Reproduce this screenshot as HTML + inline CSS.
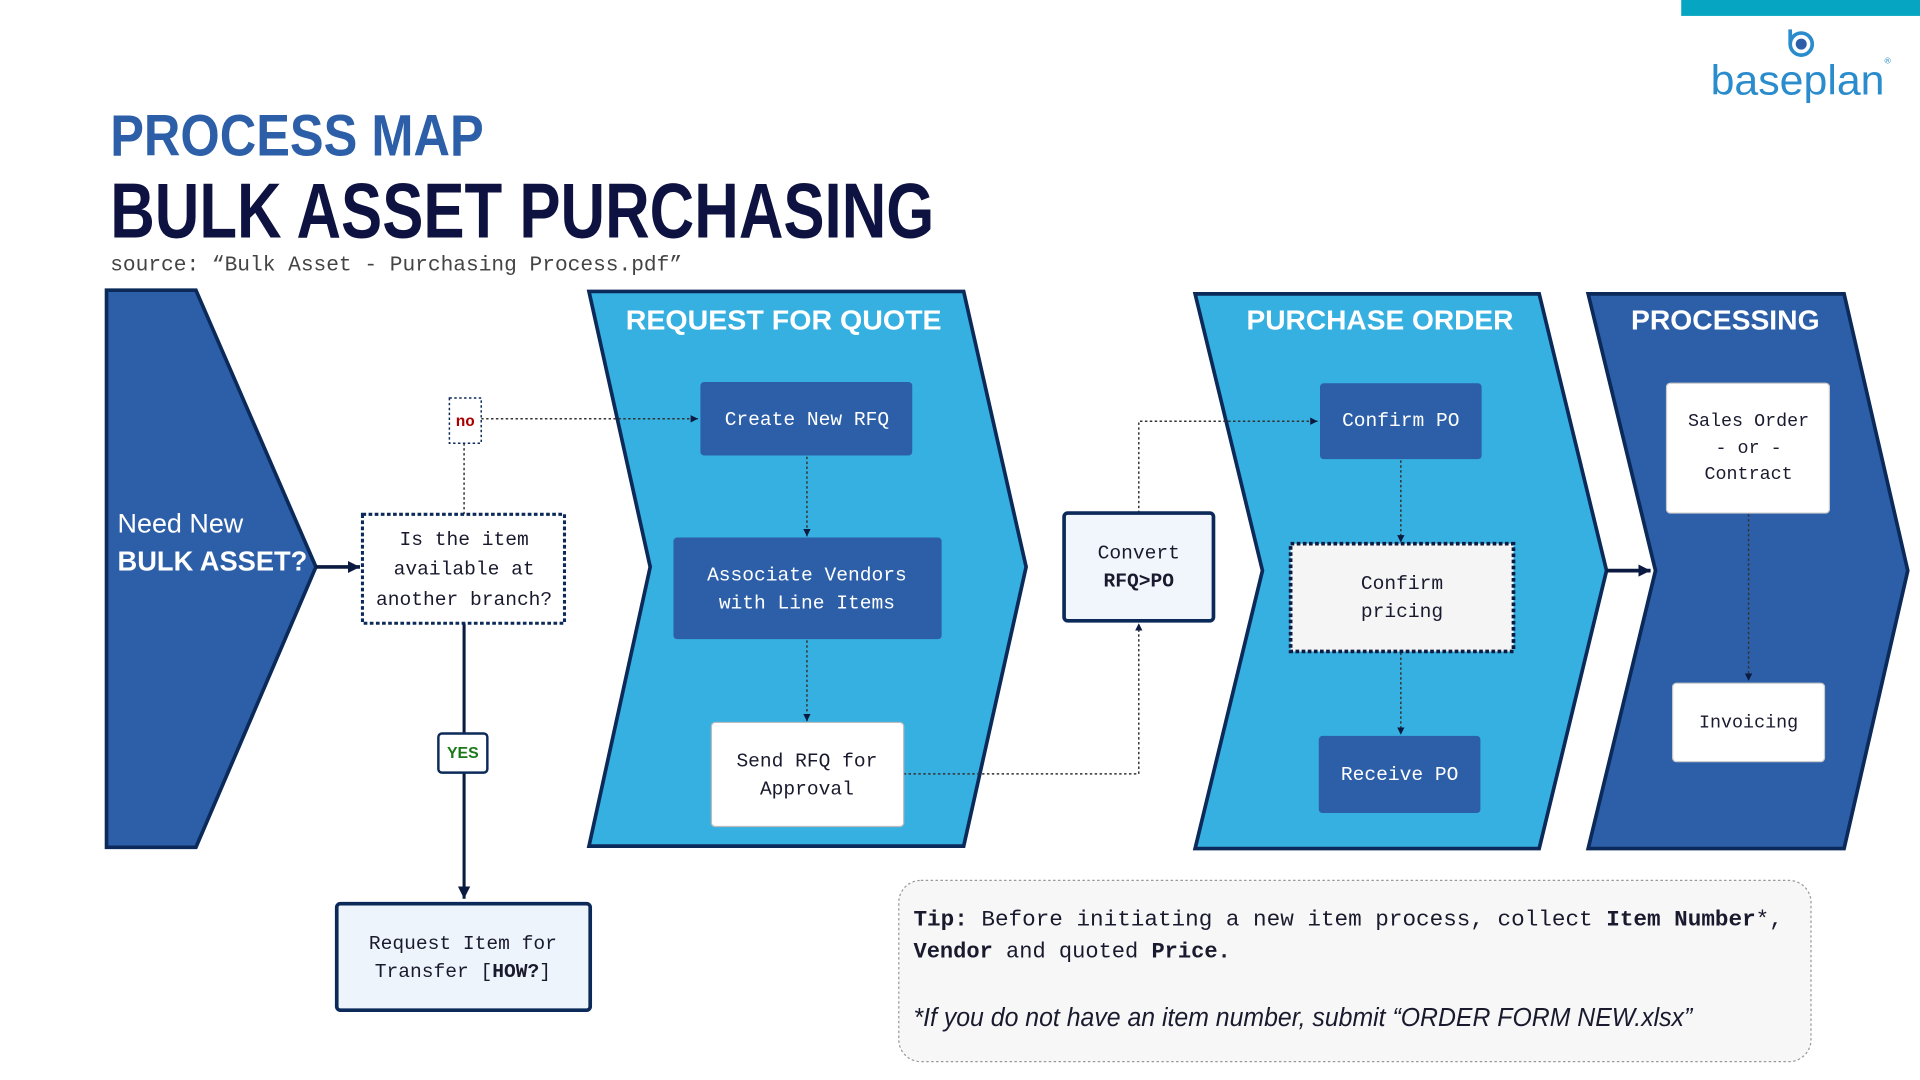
<!DOCTYPE html>
<html><head><meta charset="utf-8"><style>
html,body{margin:0;padding:0;background:#fff;width:1920px;height:1080px;overflow:hidden}
svg{display:block}
.m{font-family:"Liberation Mono","DejaVu Sans Mono",monospace}
.s{font-family:"Liberation Sans","DejaVu Sans",sans-serif}
</style></head><body>
<svg width="1920" height="1080" viewBox="0 0 1568 882" preserveAspectRatio="none" xmlns="http://www.w3.org/2000/svg">
<defs>
<marker id="a" markerWidth="8" markerHeight="8" refX="6" refY="4" orient="auto" markerUnits="userSpaceOnUse"><path d="M0,1 L6,4 L0,7 z" fill="#0b1a40"/></marker>
<marker id="b" markerWidth="12" markerHeight="12" refX="10" refY="6" orient="auto" markerUnits="userSpaceOnUse"><path d="M0,1 L10,6 L0,11 z" fill="#0b1a40"/></marker>
</defs>
<rect x="1373" y="0" width="195" height="13" fill="#06a6c2"/>
<circle cx="1471" cy="36" r="9" fill="none" stroke="#2a8ccc" stroke-width="3"/>
<circle cx="1471" cy="36" r="4.5" fill="#2d5fa8"/>
<line x1="1462" y1="24" x2="1462" y2="36" stroke="#2a8ccc" stroke-width="3"/>
<text x="1468" y="77" text-anchor="middle" class="s" font-size="34" fill="#2a8ccc" textLength="142" lengthAdjust="spacingAndGlyphs">baseplan</text>
<text x="1539" y="52" class="s" font-size="7" fill="#2a8ccc">®</text>

<text x="90" y="127" class="s" font-weight="bold" font-size="48" fill="#2d5fa8" textLength="305" lengthAdjust="spacingAndGlyphs">PROCESS MAP</text>
<text x="90" y="194" class="s" font-weight="bold" font-size="64" fill="#0d1240" textLength="673" lengthAdjust="spacingAndGlyphs">BULK ASSET PURCHASING</text>
<text x="90" y="221" class="m" font-size="17" fill="#444" textLength="467" lengthAdjust="spacingAndGlyphs">source: “Bulk Asset - Purchasing Process.pdf”</text>

<polygon points="87,237 160,237 258,463 160,692 87,692" fill="#2d5fa8" stroke="#0b2a5a" stroke-width="3"/>
<text x="96" y="435" class="s" font-size="22" fill="#fff">Need New</text>
<text x="96" y="466" class="s" font-weight="bold" font-size="23" fill="#fff" textLength="155" lengthAdjust="spacingAndGlyphs">BULK ASSET?</text>

<polygon points="481,238 787,238 838,463 787,691 481,691 531,463" fill="#36b0e0" stroke="#0b2a5a" stroke-width="3"/>
<text x="640" y="269" text-anchor="middle" class="s" font-weight="bold" font-size="23" fill="#fff" textLength="258" lengthAdjust="spacingAndGlyphs">REQUEST FOR QUOTE</text>
<polygon points="976,240 1257,240 1312,466 1257,693 976,693 1031,466" fill="#36b0e0" stroke="#0b2a5a" stroke-width="3"/>
<text x="1127" y="269" text-anchor="middle" class="s" font-weight="bold" font-size="23" fill="#fff" textLength="218" lengthAdjust="spacingAndGlyphs">PURCHASE ORDER</text>
<polygon points="1297,240 1506,240 1558,466 1506,693 1297,693 1352,466" fill="#2d5fa8" stroke="#0b2a5a" stroke-width="3"/>
<text x="1409" y="269" text-anchor="middle" class="s" font-weight="bold" font-size="23" fill="#fff" textLength="154" lengthAdjust="spacingAndGlyphs">PROCESSING</text>

<!-- connectors -->
<line x1="258" y1="463" x2="294" y2="463" stroke="#0b1a40" stroke-width="3" marker-end="url(#b)"/>
<line x1="379" y1="420" x2="379" y2="362" stroke="#333" stroke-width="1.2" stroke-dasharray="2,2"/>
<line x1="393" y1="342" x2="570" y2="342" stroke="#333" stroke-width="1.2" stroke-dasharray="2,2" marker-end="url(#a)"/>
<line x1="379" y1="509" x2="379" y2="734" stroke="#0b1a40" stroke-width="2.5" marker-end="url(#b)"/>
<line x1="659" y1="373" x2="659" y2="438" stroke="#333" stroke-width="1.2" stroke-dasharray="2,2" marker-end="url(#a)"/>
<line x1="659" y1="523" x2="659" y2="589" stroke="#333" stroke-width="1.2" stroke-dasharray="2,2" marker-end="url(#a)"/>
<polyline points="738,632 930,632 930,509" fill="none" stroke="#333" stroke-width="1.2" stroke-dasharray="2,2" marker-end="url(#a)"/>
<polyline points="930,419 930,344 1076,344" fill="none" stroke="#333" stroke-width="1.2" stroke-dasharray="2,2" marker-end="url(#a)"/>
<line x1="1144" y1="376" x2="1144" y2="443" stroke="#333" stroke-width="1.2" stroke-dasharray="2,2" marker-end="url(#a)"/>
<line x1="1144" y1="533" x2="1144" y2="600" stroke="#333" stroke-width="1.2" stroke-dasharray="2,2" marker-end="url(#a)"/>
<line x1="1428" y1="420" x2="1428" y2="556" stroke="#333" stroke-width="1.2" stroke-dasharray="2,2" marker-end="url(#a)"/>
<line x1="1312" y1="466" x2="1348" y2="466" stroke="#0b1a40" stroke-width="3" marker-end="url(#b)"/>

<!-- nodes -->
<rect x="296" y="420" width="165" height="89" fill="#fff" stroke="#0b2a5a" stroke-width="2.5" stroke-dasharray="3,2"/>
<g class="m" font-size="16" fill="#1a1a2e" text-anchor="middle">
<text x="379" y="445">Is the item</text><text x="379" y="469">available at</text><text x="379" y="494">another branch?</text></g>
<rect x="367" y="325" width="26" height="37" fill="#fff" stroke="#0b2a5a" stroke-width="1.2" stroke-dasharray="2,2"/>
<text x="380" y="348" text-anchor="middle" class="m" font-weight="bold" font-size="13" fill="#a00">no</text>
<rect x="358" y="599" width="40" height="32" rx="3" fill="#fff" stroke="#0b2a5a" stroke-width="2"/>
<text x="378" y="619" text-anchor="middle" class="s" font-weight="bold" font-size="13" fill="#1a7a1a">YES</text>
<rect x="275" y="738" width="207" height="87" rx="3" fill="#eef4fb" stroke="#0b2a5a" stroke-width="3"/>
<g class="m" font-size="16" fill="#1a1a2e" text-anchor="middle"><text x="378" y="775">Request Item for</text><text x="378" y="798">Transfer [<tspan font-weight="bold">HOW?</tspan>]</text></g>

<rect x="572" y="312" width="173" height="60" rx="3" fill="#2d5fa8"/>
<text x="659" y="347" text-anchor="middle" class="m" font-size="16" fill="#fff">Create New RFQ</text>
<rect x="550" y="439" width="219" height="83" rx="3" fill="#2d5fa8"/>
<g class="m" font-size="16" fill="#fff" text-anchor="middle"><text x="659" y="474">Associate Vendors</text><text x="659" y="497">with Line Items</text></g>
<rect x="581" y="590" width="157" height="85" rx="3" fill="#fff" stroke="#bbb" stroke-width="1"/>
<g class="m" font-size="16" fill="#1a1a2e" text-anchor="middle"><text x="659" y="626">Send RFQ for</text><text x="659" y="649">Approval</text></g>

<rect x="869" y="419" width="122" height="88" rx="3" fill="#f0f6fc" stroke="#0b2a5a" stroke-width="3"/>
<g class="m" font-size="16" fill="#1a1a2e" text-anchor="middle"><text x="930" y="456">Convert</text><text x="930" y="479" font-weight="bold">RFQ&gt;PO</text></g>

<rect x="1078" y="313" width="132" height="62" rx="3" fill="#2d5fa8"/>
<text x="1144" y="348" text-anchor="middle" class="m" font-size="16" fill="#fff">Confirm PO</text>
<rect x="1054" y="444" width="182" height="88" fill="#f5f5f5" stroke="#0b1a40" stroke-width="3" stroke-dasharray="3,2"/>
<g class="m" font-size="16" fill="#1a1a2e" text-anchor="middle"><text x="1145" y="481">Confirm</text><text x="1145" y="504">pricing</text></g>
<rect x="1077" y="601" width="132" height="63" rx="3" fill="#2d5fa8"/>
<text x="1143" y="637" text-anchor="middle" class="m" font-size="16" fill="#fff">Receive PO</text>

<rect x="1361" y="313" width="133" height="106" rx="3" fill="#fff" stroke="#ccc" stroke-width="1"/>
<g class="m" font-size="15" fill="#1a1a2e" text-anchor="middle"><text x="1428" y="348">Sales Order</text><text x="1428" y="370">- or -</text><text x="1428" y="391">Contract</text></g>
<rect x="1366" y="558" width="124" height="64" rx="3" fill="#fff" stroke="#ccc" stroke-width="1"/>
<text x="1428" y="594" text-anchor="middle" class="m" font-size="15" fill="#1a1a2e">Invoicing</text>

<rect x="734" y="719" width="745" height="148" rx="18" fill="#f7f7f7" stroke="#999" stroke-width="1" stroke-dasharray="2,2"/>
<g class="m" font-size="18" fill="#1a1a2e">
<text x="746" y="756" textLength="710" lengthAdjust="spacingAndGlyphs"><tspan font-weight="bold">Tip:</tspan> Before initiating a new item process, collect <tspan font-weight="bold">Item Number</tspan>*,</text>
<text x="746" y="782"><tspan font-weight="bold">Vendor</tspan> and quoted <tspan font-weight="bold">Price.</tspan></text></g>
<text x="746" y="838" class="s" font-style="italic" font-size="21" fill="#1a1a2e" textLength="636" lengthAdjust="spacingAndGlyphs">*If you do not have an item number, submit “ORDER FORM NEW.xlsx”</text>
</svg>
</body></html>
